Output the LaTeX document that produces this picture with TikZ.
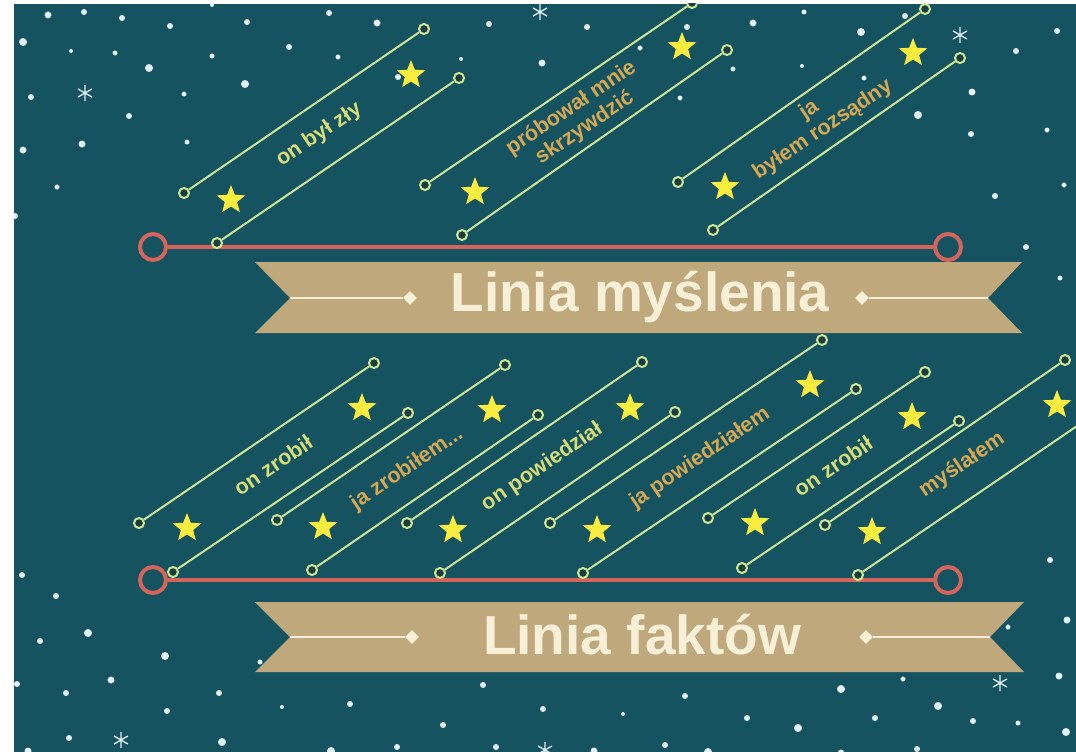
\documentclass[tikz,border=0pt]{standalone}
\usepackage{fontspec}
\setmainfont{Liberation Sans}
\usetikzlibrary{shapes.geometric}

\definecolor{bg}{RGB}{22,83,96}
\definecolor{bgdark}{RGB}{26,62,64}
\definecolor{wirec}{RGB}{205,232,150}
\definecolor{ringc}{RGB}{215,100,90}
\definecolor{stary}{RGB}{248,236,62}
\definecolor{hec}{RGB}{215,222,120}
\definecolor{mec}{RGB}{214,168,82}
\definecolor{tan}{RGB}{190,168,124}
\definecolor{cream}{RGB}{247,240,215}
\definecolor{snow}{RGB}{225,240,245}

\begin{document}
\begin{tikzpicture}[x=1pt,y=-1pt,
    wire/.style={draw=wirec,line width=2pt},
    endpt/.style={circle,draw=wirec,fill=bgdark,line width=2pt,inner sep=0pt,minimum size=10pt},
    ring/.style={circle,draw=ringc,line width=4pt,inner sep=0pt,minimum size=26pt},
    redline/.style={draw=ringc,line width=4.5pt},
    starry/.style={star,star points=5,star point ratio=2.3,fill=stary,inner sep=0pt,minimum size=30pt},
    hetxt/.style={text=hec,font=\bfseries\fontsize{21.5}{24}\selectfont,rotate=34,align=center},
    metxt/.style={hetxt,text=mec},
    title/.style={text=cream,font=\bfseries\fontsize{55}{60}\selectfont},
    gem/.style={diamond,fill=cream,inner sep=0pt,minimum size=14pt},
    flake/.style={draw=snow,line width=1.3pt}]
    \useasboundingbox (0,0) rectangle (1076,752);
    \fill[bg] (14,4) rectangle (1076,752);
    \begin{scope}
    \clip (14,4) rectangle (1076,752);

    % snow
    \foreach \x/\y/\r in {48/15/3.5,84/12/3,122/18/3,170/26/3,23/42/4,71/51/2,115/53/2.5,149/68/4,
        31/97/3,184/94/2.5,129/116/3,23/150/3.5,82/144/3.5,187/142/2.5,57/187/2.5,15/216/3,
        212/5/2,247/22/3,329/13/3,377/23/3.5,212/56/2.5,289/47/3,338/57/2.5,245/84/4,461/59/2,398/77/3,
        489/24/3,587/27/3,542/63/3.5,640/48/2.5,687/27/3,733/69/2.5,680/98/2.5,
        753/23/3.5,804/12/2.5,861/32/4,905/16/3,802/66/2,864/78/2.5,972/92/3.5,918/115/4,
        1016/51/3,1057/31/3,971/134/3,1047/130/2.5,995/196/3,1026/247/3,1060/278/2.5,1064/185/2.5,
        22/575/3,1050/560/3,
        56/596/3,88/633/4,40/641/3,165/656/4,111/680/3.5,17/684/3,66/693/3,219/693/3,167/711/3,
        260/662/2.5,282/707/2,350/704/3,483/685/3,443/725/3,69/738/3,222/742/4,28/751/3.5,
        331/751/4,397/747/3,496/747/3,841/689/4,903/679/2.5,938/706/4,685/696/3,623/714/2,
        747/718/3,798/728/4,875/718/3,973/721/3,1018/723/2.5,1066/732/4,594/751/3.5,665/745/3,
        708/752/4,841/753/3.5,917/749/3,1059/676/3.5,1067/620/3.5,1008/627/2.5,543/709/3}
        \fill[snow] (\x,\y) circle (\r);
    \foreach \x/\y in {85/93,540/12,960/35,121/740,1000/683,545/750}
        \draw[flake] (\x,\y) +(90:8) -- +(270:8) +(30:8) -- +(210:8) +(150:8) -- +(330:8);

    % red lines
    \node[ring] (mL) at (153,247) {};
    \node[ring] (mR) at (948,247) {};
    \draw[redline] (mL) -- (mR);
    \node[ring] (fL) at (153,580) {};
    \node[ring] (fR) at (948,580) {};
    \draw[redline] (fL) -- (fR);

    % thinking
    \node[endpt] (u1a) at (184,193) {};
    \node[endpt] (u1A) at (424,29) {};
    \node[endpt] (u1b) at (217,243) {};
    \node[endpt] (u1B) at (459,78) {};
    \draw[wire] (u1a) -- (u1A);
    \draw[wire] (u1b) -- (u1B);
    \node[starry] (s1) at (231,200) {};
    \node[starry] (s2) at (411,75) {};
    \node[hetxt] (t1) at (319,135) {on był zły};

    \node[endpt] (u2a) at (425,185) {};
    \node[endpt] (u2A) at (692,3) {};
    \node[endpt] (u2b) at (462,235) {};
    \node[endpt] (u2B) at (727,50) {};
    \draw[wire] (u2a) -- (u2A);
    \draw[wire] (u2b) -- (u2B);
    \node[starry] (s3) at (475,192) {};
    \node[starry] (s4) at (682,47) {};
    \node[metxt] (t2) at (578,118) {próbował mnie\\skrzywdzić};

    \node[endpt] (u3a) at (678,182) {};
    \node[endpt] (u3A) at (925,9) {};
    \node[endpt] (u3b) at (713,230) {};
    \node[endpt] (u3B) at (960,58) {};
    \draw[wire] (u3a) -- (u3A);
    \draw[wire] (u3b) -- (u3B);
    \node[starry] (s5) at (725,187) {};
    \node[starry] (s6) at (913,53) {};
    \node[metxt] (t3) at (816,120) {ja\\byłem rozsądny};

    % facts
    \node[endpt] (d1a) at (139,523) {};
    \node[endpt] (d1A) at (374,363) {};
    \node[endpt] (d1b) at (173,572) {};
    \node[endpt] (d1B) at (408,413) {};
    \draw[wire] (d1a) -- (d1A);
    \draw[wire] (d1b) -- (d1B);
    \node[starry] (s7) at (187,528) {};
    \node[starry] (s8) at (362,408) {};
    \node[hetxt] (t4) at (273,465) {on zrobił};

    \node[endpt] (d2a) at (277,520) {};
    \node[endpt] (d2A) at (505,365) {};
    \node[endpt] (d2b) at (312,570) {};
    \node[endpt] (d2B) at (538,415) {};
    \draw[wire] (d2a) -- (d2A);
    \draw[wire] (d2b) -- (d2B);
    \node[starry] (s9) at (323,527) {};
    \node[starry] (s10) at (492,410) {};
    \node[metxt] (t5) at (407,469) {ja zrobiłem...};

    \node[endpt] (d3a) at (407,523) {};
    \node[endpt] (d3A) at (642,362) {};
    \node[endpt] (d3b) at (440,573) {};
    \node[endpt] (d3B) at (675,412) {};
    \draw[wire] (d3a) -- (d3A);
    \draw[wire] (d3b) -- (d3B);
    \node[starry] (s11) at (453,530) {};
    \node[starry] (s12) at (630,408) {};
    \node[hetxt] (t6) at (542,467) {on powiedział};

    \node[endpt] (d4a) at (550,523) {};
    \node[endpt] (d4A) at (822,340) {};
    \node[endpt] (d4b) at (583,573) {};
    \node[endpt] (d4B) at (856,389) {};
    \draw[wire] (d4a) -- (d4A);
    \draw[wire] (d4b) -- (d4B);
    \node[starry] (s13) at (597,530) {};
    \node[starry] (s14) at (810,385) {};
    \node[metxt] (t7) at (700,458) {ja powiedziałem};

    \node[endpt] (d5a) at (708,518) {};
    \node[endpt] (d5A) at (925,372) {};
    \node[endpt] (d5b) at (742,568) {};
    \node[endpt] (d5B) at (959,421) {};
    \draw[wire] (d5a) -- (d5A);
    \draw[wire] (d5b) -- (d5B);
    \node[starry] (s15) at (755,523) {};
    \node[starry] (s16) at (912,417) {};
    \node[hetxt] (t8) at (833,466) {on zrobił};

    \node[endpt] (d6a) at (825,525) {};
    \node[endpt] (d6A) at (1065,360) {};
    \node[endpt] (d6b) at (858,575) {};
    \coordinate (d6B) at (1080,424);
    \draw[wire] (d6a) -- (d6A);
    \draw[wire] (d6b) -- (d6B);
    \node[starry] (s17) at (872,532) {};
    \node[starry] (s18) at (1057,405) {};
    \node[metxt] (t9) at (962,465) {myślałem};

    % banners
    \fill[tan] (255,262) -- (1022,262) -- (988,298) -- (1022,333) -- (255,333) -- (290,298) -- cycle;
    \coordinate (mnl) at (290,298);
    \coordinate (mnr) at (988,298);
    \node[gem] (mgl) at (410,298) {};
    \node[gem] (mgr) at (862,298) {};
    \draw[cream,line width=2.5pt] (mnl) -- (mgl);
    \draw[cream,line width=2.5pt] (mgr) -- (mnr);
    \node[title] (mt) at (640,297) {Linia myślenia};

    \fill[tan] (255,602) -- (1024,602) -- (990,637) -- (1024,672) -- (255,672) -- (290,637) -- cycle;
    \coordinate (fnl) at (290,637);
    \coordinate (fnr) at (990,637);
    \node[gem] (fgl) at (412,637) {};
    \node[gem] (fgr) at (866,637) {};
    \draw[cream,line width=2.5pt] (fnl) -- (fgl);
    \draw[cream,line width=2.5pt] (fgr) -- (fnr);
    \node[title] (ft) at (642,635) {Linia faktów};
    \end{scope}
\end{tikzpicture}
\end{document}
